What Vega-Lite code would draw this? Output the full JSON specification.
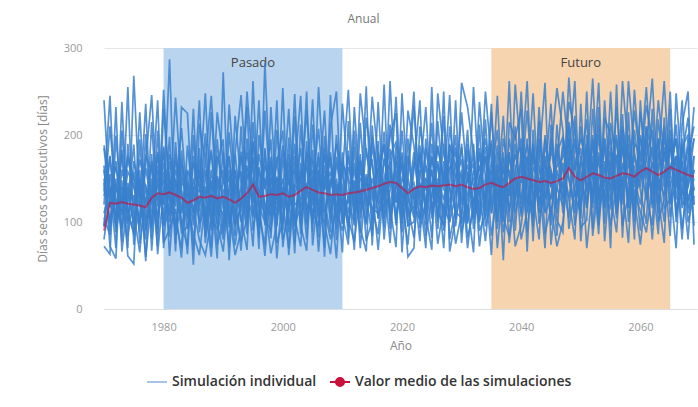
{
  "$schema": "https://vega.github.io/schema/vega-lite/v6.json",
  "width": 593,
  "height": 261,
  "padding": {"left": 36, "top": 13, "right": 0, "bottom": 5},
  "background": "white",
  "title": {"text": "Anual", "fontSize": 12, "font": "Open Sans", "fontWeight": "normal", "color": "#777777", "anchor": "middle", "dx": -37, "offset": 16},
  "config": {
    "view": {"stroke": null},
    "font": "Open Sans",
    "axis": {"labelFont": "Open Sans", "titleFont": "Open Sans", "labelColor": "#9a9a9a", "titleColor": "#8a8a8a", "labelFontSize": 11, "titleFontSize": 12, "titleFontWeight": "normal"},
    "legend": {"labelFont": "Open Sans"}
  },
  "datasets": {
    "bandas": [
      {"periodo": "Pasado", "ini": 1980, "fin": 2010, "centro": 1995},
      {"periodo": "Futuro", "ini": 2035, "fin": 2065, "centro": 2050}
    ],
    "serie": [
      {"a":1970,"m":90,"s0":150,"s1":95,"s2":72,"s3":188,"s4":120,"s5":240,"s6":105,"s7":135,"s8":80,"s9":165,"t0":110,"t1":160,"t2":130,"t3":185,"t4":95,"t5":145},
      {"a":1971,"m":122,"s0":98,"s1":176,"s2":63,"s3":142,"s4":210,"s5":118,"s6":85,"s7":245,"s8":131,"s9":72,"t0":140,"t1":100,"t2":175,"t3":118,"t4":155,"t5":90},
      {"a":1972,"m":121,"s0":150,"s1":88,"s2":199,"s3":70,"s4":125,"s5":108,"s6":232,"s7":93,"s8":164,"s9":58,"t0":95,"t1":145,"t2":120,"t3":170,"t4":105,"t5":138},
      {"a":1973,"m":123,"s0":77,"s1":135,"s2":112,"s3":238,"s4":92,"s5":183,"s6":66,"s7":148,"s8":120,"s9":205,"t0":160,"t1":108,"t2":140,"t3":92,"t4":178,"t5":125},
      {"a":1974,"m":121,"s0":190,"s1":70,"s2":140,"s3":101,"s4":255,"s5":84,"s6":126,"s7":61,"s8":172,"s9":112,"t0":130,"t1":158,"t2":98,"t3":145,"t4":112,"t5":176},
      {"a":1975,"m":120,"s0":110,"s1":268,"s2":95,"s3":158,"s4":74,"s5":131,"s6":189,"s7":52,"s8":140,"s9":86,"t0":100,"t1":142,"t2":170,"t3":118,"t4":88,"t5":150},
      {"a":1976,"m":119,"s0":65,"s1":121,"s2":226,"s3":88,"s4":147,"s5":100,"s6":75,"s7":195,"s8":118,"s9":160,"t0":150,"t1":96,"t2":135,"t3":172,"t4":110,"t5":128},
      {"a":1977,"m":117,"s0":143,"s1":80,"s2":104,"s3":201,"s4":60,"s5":170,"s6":129,"s7":91,"s8":236,"s9":55,"t0":118,"t1":162,"t2":90,"t3":140,"t4":175,"t5":102},
      {"a":1978,"m":128,"s0":92,"s1":215,"s2":150,"s3":67,"s4":128,"s5":246,"s6":105,"s7":137,"s8":81,"s9":178,"t0":170,"t1":120,"t2":142,"t3":98,"t4":160,"t5":112},
      {"a":1979,"m":133,"s0":181,"s1":99,"s2":72,"s3":160,"s4":240,"s5":118,"s6":144,"s7":86,"s8":205,"s9":63,"t0":125,"t1":178,"t2":105,"t3":150,"t4":92,"t5":165},
      {"a":1980,"m":132,"s0":120,"s1":158,"s2":230,"s3":95,"s4":70,"s5":187,"s6":108,"s7":252,"s8":76,"s9":139,"t0":148,"t1":102,"t2":168,"t3":120,"t4":185,"t5":96},
      {"a":1981,"m":134,"s0":287,"s1":83,"s2":136,"s3":112,"s4":170,"s5":61,"s6":198,"s7":125,"s8":92,"s9":155,"t0":108,"t1":150,"t2":125,"t3":178,"t4":100,"t5":140},
      {"a":1982,"m":131,"s0":75,"s1":192,"s2":101,"s3":243,"s4":128,"s5":150,"s6":66,"s7":178,"s8":115,"s9":90,"t0":160,"t1":118,"t2":90,"t3":145,"t4":170,"t5":126},
      {"a":1983,"m":128,"s0":166,"s1":110,"s2":70,"s3":135,"s4":208,"s5":88,"s6":232,"s7":97,"s8":59,"s9":147,"t0":135,"t1":172,"t2":115,"t3":98,"t4":150,"t5":182},
      {"a":1984,"m":122,"s0":102,"s1":145,"s2":188,"s3":63,"s4":119,"s5":94,"s6":225,"s7":72,"s8":158,"s9":131,"t0":92,"t1":130,"t2":160,"t3":115,"t4":142,"t5":105},
      {"a":1985,"m":125,"s0":230,"s1":68,"s2":124,"s3":176,"s4":86,"s5":140,"s6":103,"s7":200,"s8":51,"s9":117,"t0":150,"t1":112,"t2":138,"t3":168,"t4":96,"t5":132},
      {"a":1986,"m":129,"s0":88,"s1":171,"s2":240,"s3":112,"s4":62,"s5":135,"s6":160,"s7":98,"s8":213,"s9":79,"t0":118,"t1":158,"t2":100,"t3":140,"t4":185,"t5":124},
      {"a":1987,"m":128,"s0":141,"s1":95,"s2":76,"s3":202,"s4":125,"s5":248,"s6":83,"s7":118,"s8":170,"s9":62,"t0":172,"t1":130,"t2":150,"t3":108,"t4":92,"t5":160},
      {"a":1988,"m":130,"s0":70,"s1":226,"s2":132,"s3":90,"s4":183,"s5":108,"s6":148,"s7":60,"s8":245,"s9":103,"t0":105,"t1":145,"t2":180,"t3":125,"t4":160,"t5":98},
      {"a":1989,"m":127,"s0":195,"s1":112,"s2":58,"s3":153,"s4":99,"s5":226,"s6":74,"s7":167,"s8":128,"s9":92,"t0":140,"t1":96,"t2":122,"t3":176,"t4":110,"t5":150},
      {"a":1990,"m":129,"s0":115,"s1":80,"s2":272,"s3":129,"s4":66,"s5":171,"s6":100,"s7":195,"s8":87,"s9":150,"t0":160,"t1":135,"t2":108,"t3":148,"t4":180,"t5":94},
      {"a":1991,"m":126,"s0":160,"s1":203,"s2":94,"s3":71,"s4":138,"s5":110,"s6":235,"s7":56,"s8":122,"s9":176,"t0":98,"t1":150,"t2":175,"t3":120,"t4":104,"t5":140},
      {"a":1992,"m":122,"s0":84,"s1":130,"s2":158,"s3":222,"s4":96,"s5":62,"s6":143,"s7":180,"s8":73,"s9":115,"t0":132,"t1":108,"t2":95,"t3":160,"t4":140,"t5":178},
      {"a":1993,"m":127,"s0":210,"s1":67,"s2":117,"s3":145,"s4":181,"s5":89,"s6":104,"s7":246,"s8":128,"s9":78,"t0":176,"t1":140,"t2":120,"t3":100,"t4":158,"t5":112},
      {"a":1994,"m":133,"s0":101,"s1":162,"s2":233,"s3":86,"s4":122,"s5":196,"s6":68,"s7":140,"s8":250,"s9":104,"t0":112,"t1":180,"t2":150,"t3":130,"t4":96,"t5":165},
      {"a":1995,"m":143,"s0":175,"s1":122,"s2":90,"s3":262,"s4":146,"s5":108,"s6":215,"s7":72,"s8":158,"s9":193,"t0":150,"t1":128,"t2":170,"t3":105,"t4":190,"t5":140},
      {"a":1996,"m":129,"s0":69,"s1":240,"s2":134,"s3":110,"s4":82,"s5":163,"s6":121,"s7":200,"s8":95,"s9":148,"t0":138,"t1":100,"t2":160,"t3":178,"t4":118,"t5":92},
      {"a":1997,"m":130,"s0":283,"s1":96,"s2":150,"s3":73,"s4":185,"s5":119,"s6":61,"s7":138,"s8":228,"s9":104,"t0":104,"t1":165,"t2":120,"t3":140,"t4":100,"t5":182},
      {"a":1998,"m":132,"s0":118,"s1":175,"s2":81,"s3":232,"s4":106,"s5":64,"s6":152,"s7":195,"s8":128,"s9":90,"t0":170,"t1":140,"t2":108,"t3":158,"t4":124,"t5":96},
      {"a":1999,"m":131,"s0":152,"s1":58,"s2":206,"s3":125,"s4":240,"s5":97,"s6":113,"s7":76,"s8":168,"s9":143,"t0":120,"t1":96,"t2":175,"t3":104,"t4":150,"t5":138},
      {"a":2000,"m":133,"s0":90,"s1":138,"s2":118,"s3":180,"s4":71,"s5":254,"s6":133,"s7":100,"s8":205,"s9":80,"t0":150,"t1":172,"t2":100,"t3":140,"t4":118,"t5":188},
      {"a":2001,"m":129,"s0":197,"s1":111,"s2":70,"s3":146,"s4":127,"s5":88,"s6":230,"s7":160,"s8":62,"s9":109,"t0":96,"t1":130,"t2":168,"t3":112,"t4":178,"t5":145},
      {"a":2002,"m":131,"s0":76,"s1":222,"s2":159,"s3":95,"s4":190,"s5":132,"s6":104,"s7":64,"s8":142,"s9":247,"t0":140,"t1":104,"t2":120,"t3":176,"t4":98,"t5":160},
      {"a":2003,"m":136,"s0":168,"s1":86,"s2":245,"s3":120,"s4":101,"s5":155,"s6":72,"s7":212,"s8":137,"s9":96,"t0":185,"t1":150,"t2":126,"t3":98,"t4":160,"t5":118},
      {"a":2004,"m":140,"s0":126,"s1":193,"s2":99,"s3":250,"s4":141,"s5":80,"s6":178,"s7":114,"s8":228,"s9":67,"t0":110,"t1":162,"t2":145,"t3":180,"t4":96,"t5":136},
      {"a":2005,"m":137,"s0":241,"s1":104,"s2":145,"s3":73,"s4":160,"s5":212,"s6":89,"s7":131,"s8":119,"s9":183,"t0":152,"t1":126,"t2":98,"t3":170,"t4":140,"t5":110},
      {"a":2006,"m":134,"s0":95,"s1":160,"s2":207,"s3":139,"s4":66,"s5":118,"s6":255,"s7":82,"s8":175,"s9":108,"t0":120,"t1":180,"t2":150,"t3":105,"t4":160,"t5":96},
      {"a":2007,"m":133,"s0":185,"s1":71,"s2":122,"s3":228,"s4":150,"s5":98,"s6":137,"s7":199,"s8":60,"s9":114,"t0":165,"t1":100,"t2":138,"t3":178,"t4":112,"t5":148},
      {"a":2008,"m":131,"s0":110,"s1":246,"s2":88,"s3":104,"s4":175,"s5":63,"s6":158,"s7":128,"s8":210,"s9":80,"t0":98,"t1":150,"t2":180,"t3":124,"t4":140,"t5":168},
      {"a":2009,"m":132,"s0":144,"s1":92,"s2":200,"s3":168,"s4":79,"s5":136,"s6":112,"s7":58,"s8":250,"s9":120,"t0":175,"t1":118,"t2":104,"t3":150,"t4":190,"t5":136},
      {"a":2010,"m":131,"s0":65,"s1":180,"s2":108,"s3":133,"s4":236,"s5":154,"s6":90,"s7":170,"s8":98,"s9":126,"t0":140,"t1":168,"t2":120,"t3":98,"t4":156,"t5":110},
      {"a":2011,"m":133,"s0":216,"s1":121,"s2":74,"s3":95,"s4":146,"s5":252,"s6":130,"s7":82,"s8":163,"s9":104,"t0":110,"t1":150,"t2":176,"t3":130,"t4":96,"t5":182},
      {"a":2012,"m":134,"s0":102,"s1":148,"s2":232,"s3":187,"s4":68,"s5":113,"s6":96,"s7":205,"s8":140,"s9":77,"t0":168,"t1":126,"t2":100,"t3":160,"t4":145,"t5":118},
      {"a":2013,"m":135,"s0":160,"s1":87,"s2":129,"s3":70,"s4":214,"s5":171,"s6":248,"s7":110,"s8":93,"s9":136,"t0":120,"t1":178,"t2":150,"t3":104,"t4":135,"t5":170},
      {"a":2014,"m":137,"s0":130,"s1":220,"s2":97,"s3":152,"s4":118,"s5":78,"s6":181,"s7":256,"s8":66,"s9":145,"t0":155,"t1":108,"t2":140,"t3":185,"t4":100,"t5":128},
      {"a":2015,"m":139,"s0":84,"s1":166,"s2":198,"s3":115,"s4":244,"s5":102,"s6":140,"s7":73,"s8":211,"s9":126,"t0":102,"t1":150,"t2":172,"t3":130,"t4":188,"t5":116},
      {"a":2016,"m":141,"s0":238,"s1":104,"s2":150,"s3":86,"s4":172,"s5":130,"s6":68,"s7":193,"s8":120,"s9":160,"t0":180,"t1":125,"t2":104,"t3":162,"t4":140,"t5":110},
      {"a":2017,"m":144,"s0":110,"s1":258,"s2":125,"s3":172,"s4":94,"s5":204,"s6":147,"s7":80,"s8":136,"s9":188,"t0":130,"t1":172,"t2":150,"t3":104,"t4":190,"t5":120},
      {"a":2018,"m":146,"s0":170,"s1":92,"s2":212,"s3":140,"s4":262,"s5":116,"s6":76,"s7":158,"s8":198,"s9":101,"t0":118,"t1":160,"t2":184,"t3":136,"t4":108,"t5":176},
      {"a":2019,"m":145,"s0":96,"s1":188,"s2":150,"s3":244,"s4":123,"s5":71,"s6":176,"s7":108,"s8":225,"s9":140,"t0":170,"t1":122,"t2":100,"t3":160,"t4":145,"t5":192},
      {"a":2020,"m":139,"s0":205,"s1":125,"s2":88,"s3":110,"s4":168,"s5":248,"s6":98,"s7":142,"s8":65,"s9":180,"t0":128,"t1":176,"t2":150,"t3":104,"t4":118,"t5":160},
      {"a":2021,"m":133,"s0":118,"s1":74,"s2":196,"s3":150,"s4":95,"s5":130,"s6":228,"s7":60,"s8":160,"s9":108,"t0":150,"t1":104,"t2":136,"t3":176,"t4":122,"t5":96},
      {"a":2022,"m":138,"s0":82,"s1":162,"s2":122,"s3":233,"s4":140,"s5":105,"s6":188,"s7":70,"s8":250,"s9":118,"t0":110,"t1":170,"t2":145,"t3":126,"t4":180,"t5":100},
      {"a":2023,"m":141,"s0":155,"s1":240,"s2":102,"s3":128,"s4":78,"s5":180,"s6":120,"s7":210,"s8":93,"s9":146,"t0":176,"t1":128,"t2":104,"t3":160,"t4":140,"t5":188},
      {"a":2024,"m":140,"s0":232,"s1":96,"s2":150,"s3":70,"s4":196,"s5":136,"s6":108,"s7":165,"s8":123,"s9":84,"t0":120,"t1":165,"t2":185,"t3":112,"t4":150,"t5":104},
      {"a":2025,"m":142,"s0":108,"s1":175,"s2":82,"s3":255,"s4":116,"s5":160,"s6":68,"s7":140,"s8":214,"s9":130,"t0":160,"t1":104,"t2":140,"t3":176,"t4":126,"t5":190},
      {"a":2026,"m":141,"s0":170,"s1":128,"s2":216,"s3":92,"s4":145,"s5":75,"s6":248,"s7":112,"s8":100,"s9":188,"t0":104,"t1":150,"t2":168,"t3":122,"t4":186,"t5":130},
      {"a":2027,"m":142,"s0":90,"s1":222,"s2":136,"s3":160,"s4":70,"s5":118,"s6":180,"s7":96,"s8":250,"s9":142,"t0":170,"t1":125,"t2":104,"t3":190,"t4":150,"t5":116},
      {"a":2028,"m":143,"s0":145,"s1":80,"s2":246,"s3":112,"s4":190,"s5":100,"s6":138,"s7":210,"s8":66,"s9":162,"t0":122,"t1":178,"t2":160,"t3":100,"t4":140,"t5":188},
      {"a":2029,"m":141,"s0":200,"s1":116,"s2":95,"s3":168,"s4":132,"s5":240,"s6":75,"s7":150,"s8":104,"s9":180,"t0":150,"t1":104,"t2":186,"t3":132,"t4":112,"t5":166},
      {"a":2030,"m":143,"s0":76,"s1":190,"s2":155,"s3":125,"s4":226,"s5":88,"s6":110,"s7":172,"s8":260,"s9":98,"t0":186,"t1":140,"t2":120,"t3":160,"t4":104,"t5":150},
      {"a":2031,"m":140,"s0":158,"s1":98,"s2":70,"s3":206,"s4":145,"s5":120,"s6":190,"s7":82,"s8":232,"s9":128,"t0":112,"t1":166,"t2":148,"t3":100,"t4":182,"t5":130},
      {"a":2032,"m":138,"s0":105,"s1":255,"s2":128,"s3":92,"s4":168,"s5":65,"s6":140,"s7":114,"s8":180,"s9":150,"t0":160,"t1":120,"t2":176,"t3":140,"t4":104,"t5":190},
      {"a":2033,"m":139,"s0":185,"s1":134,"s2":100,"s3":150,"s4":72,"s5":212,"s6":118,"s7":238,"s8":90,"s9":160,"t0":128,"t1":180,"t2":110,"t3":165,"t4":150,"t5":102},
      {"a":2034,"m":143,"s0":120,"s1":78,"s2":218,"s3":176,"s4":132,"s5":95,"s6":250,"s7":150,"s8":108,"s9":196,"t0":176,"t1":112,"t2":150,"t3":104,"t4":186,"t5":136},
      {"a":2035,"m":145,"s0":236,"s1":150,"s2":110,"s3":84,"s4":194,"s5":128,"s6":170,"s7":62,"s8":226,"s9":140,"t0":120,"t1":170,"t2":190,"t3":140,"t4":110,"t5":160},
      {"a":2036,"m":142,"s0":92,"s1":206,"s2":160,"s3":132,"s4":70,"s5":245,"s6":100,"s7":180,"s8":124,"s9":150,"t0":166,"t1":128,"t2":104,"t3":188,"t4":150,"t5":118},
      {"a":2037,"m":140,"s0":164,"s1":118,"s2":88,"s3":222,"s4":145,"s5":104,"s6":196,"s7":56,"s8":174,"s9":132,"t0":110,"t1":160,"t2":180,"t3":125,"t4":100,"t5":150},
      {"a":2038,"m":145,"s0":130,"s1":262,"s2":140,"s3":100,"s4":180,"s5":84,"s6":155,"s7":215,"s8":76,"s9":170,"t0":180,"t1":130,"t2":112,"t3":160,"t4":196,"t5":140},
      {"a":2039,"m":150,"s0":210,"s1":90,"s2":178,"s3":258,"s4":118,"s5":150,"s6":72,"s7":196,"s8":136,"s9":164,"t0":126,"t1":190,"t2":160,"t3":110,"t4":146,"t5":176},
      {"a":2040,"m":152,"s0":106,"s1":185,"s2":145,"s3":172,"s4":250,"s5":126,"s6":96,"s7":230,"s8":160,"s9":80,"t0":170,"t1":120,"t2":196,"t3":148,"t4":110,"t5":186},
      {"a":2041,"m":150,"s0":174,"s1":140,"s2":228,"s3":88,"s4":120,"s5":196,"s6":152,"s7":66,"s8":262,"s9":112,"t0":112,"t1":176,"t2":140,"t3":190,"t4":160,"t5":126},
      {"a":2042,"m":148,"s0":95,"s1":248,"s2":130,"s3":162,"s4":190,"s5":78,"s6":140,"s7":206,"s8":108,"s9":176,"t0":186,"t1":130,"t2":116,"t3":150,"t4":176,"t5":104},
      {"a":2043,"m":146,"s0":232,"s1":112,"s2":80,"s3":150,"s4":122,"s5":216,"s6":170,"s7":98,"s8":188,"s9":134,"t0":120,"t1":166,"t2":196,"t3":136,"t4":110,"t5":158},
      {"a":2044,"m":147,"s0":126,"s1":172,"s2":200,"s3":70,"s4":154,"s5":110,"s6":260,"s7":142,"s8":86,"s9":196,"t0":176,"t1":112,"t2":150,"t3":186,"t4":128,"t5":166},
      {"a":2045,"m":145,"s0":160,"s1":96,"s2":140,"s3":212,"s4":236,"s5":128,"s6":74,"s7":180,"s8":118,"s9":150,"t0":108,"t1":186,"t2":126,"t3":160,"t4":196,"t5":140},
      {"a":2046,"m":147,"s0":84,"s1":212,"s2":166,"s3":120,"s4":102,"s5":182,"s6":140,"s7":254,"s8":72,"s9":164,"t0":160,"t1":136,"t2":190,"t3":110,"t4":150,"t5":180},
      {"a":2047,"m":150,"s0":196,"s1":128,"s2":250,"s3":146,"s4":88,"s5":160,"s6":118,"s7":205,"s8":100,"s9":174,"t0":126,"t1":186,"t2":110,"t3":168,"t4":140,"t5":198},
      {"a":2048,"m":162,"s0":150,"s1":266,"s2":180,"s3":104,"s4":215,"s5":126,"s6":238,"s7":92,"s8":172,"s9":196,"t0":196,"t1":150,"t2":176,"t3":128,"t4":210,"t5":160},
      {"a":2049,"m":152,"s0":118,"s1":170,"s2":96,"s3":222,"s4":160,"s5":80,"s6":206,"s7":140,"s8":262,"s9":130,"t0":150,"t1":110,"t2":188,"t3":166,"t4":130,"t5":196},
      {"a":2050,"m":148,"s0":210,"s1":104,"s2":140,"s3":78,"s4":185,"s5":236,"s6":120,"s7":166,"s8":94,"s9":150,"t0":120,"t1":176,"t2":156,"t3":196,"t4":110,"t5":140},
      {"a":2051,"m":152,"s0":134,"s1":250,"s2":190,"s3":155,"s4":70,"s5":116,"s6":170,"s7":218,"s8":102,"s9":178,"t0":186,"t1":140,"t2":116,"t3":170,"t4":200,"t5":126},
      {"a":2052,"m":156,"s0":176,"s1":92,"s2":122,"s3":265,"s4":140,"s5":200,"s6":150,"s7":84,"s8":230,"s9":164,"t0":130,"t1":196,"t2":170,"t3":116,"t4":150,"t5":186},
      {"a":2053,"m":154,"s0":100,"s1":180,"s2":232,"s3":130,"s4":212,"s5":96,"s6":260,"s7":146,"s8":120,"s9":86,"t0":176,"t1":126,"t2":150,"t3":200,"t4":110,"t5":166},
      {"a":2054,"m":151,"s0":240,"s1":140,"s2":78,"s3":170,"s4":116,"s5":162,"s6":98,"s7":196,"s8":136,"s9":220,"t0":116,"t1":186,"t2":160,"t3":130,"t4":196,"t5":146},
      {"a":2055,"m":150,"s0":130,"s1":214,"s2":160,"s3":95,"s4":250,"s5":120,"s6":180,"s7":70,"s8":150,"s9":200,"t0":170,"t1":136,"t2":196,"t3":116,"t4":156,"t5":186},
      {"a":2056,"m":153,"s0":88,"s1":166,"s2":200,"s3":146,"s4":126,"s5":232,"s6":104,"s7":258,"s8":176,"s9":110,"t0":136,"t1":196,"t2":120,"t3":176,"t4":146,"t5":110},
      {"a":2057,"m":156,"s0":196,"s1":120,"s2":96,"s3":224,"s4":160,"s5":140,"s6":210,"s7":82,"s8":186,"s9":262,"t0":186,"t1":126,"t2":166,"t3":140,"t4":206,"t5":150},
      {"a":2058,"m":155,"s0":150,"s1":262,"s2":132,"s3":100,"s4":190,"s5":76,"s6":170,"s7":226,"s8":116,"s9":180,"t0":126,"t1":180,"t2":150,"t3":200,"t4":116,"t5":166},
      {"a":2059,"m":152,"s0":110,"s1":180,"s2":228,"s3":165,"s4":80,"s5":206,"s6":135,"s7":100,"s8":252,"s9":126,"t0":176,"t1":140,"t2":116,"t3":150,"t4":190,"t5":126},
      {"a":2060,"m":158,"s0":226,"s1":136,"s2":170,"s3":90,"s4":240,"s5":150,"s6":112,"s7":196,"s8":160,"s9":74,"t0":140,"t1":200,"t2":166,"t3":120,"t4":180,"t5":150},
      {"a":2061,"m":162,"s0":176,"s1":98,"s2":255,"s3":210,"s4":130,"s5":186,"s6":88,"s7":160,"s8":234,"s9":140,"t0":196,"t1":150,"t2":126,"t3":176,"t4":160,"t5":210},
      {"a":2062,"m":158,"s0":120,"s1":230,"s2":150,"s3":176,"s4":96,"s5":265,"s6":140,"s7":80,"s8":196,"s9":168,"t0":130,"t1":186,"t2":166,"t3":206,"t4":140,"t5":116},
      {"a":2063,"m":154,"s0":196,"s1":110,"s2":86,"s3":150,"s4":218,"s5":128,"s6":240,"s7":172,"s8":100,"s9":154,"t0":180,"t1":120,"t2":150,"t3":136,"t4":196,"t5":166},
      {"a":2064,"m":158,"s0":140,"s1":186,"s2":220,"s3":100,"s4":160,"s5":76,"s6":176,"s7":262,"s8":126,"s9":210,"t0":150,"t1":200,"t2":130,"t3":180,"t4":116,"t5":170},
      {"a":2065,"m":163,"s0":250,"s1":150,"s2":120,"s3":196,"s4":84,"s5":230,"s6":160,"s7":140,"s8":186,"s9":106,"t0":186,"t1":140,"t2":206,"t3":160,"t4":126,"t5":196},
      {"a":2066,"m":160,"s0":106,"s1":212,"s2":176,"s3":140,"s4":248,"s5":100,"s6":196,"s7":70,"s8":166,"s9":154,"t0":126,"t1":176,"t2":150,"t3":196,"t4":140,"t5":110},
      {"a":2067,"m":157,"s0":186,"s1":130,"s2":92,"s3":240,"s4":150,"s5":176,"s6":116,"s7":212,"s8":80,"s9":168,"t0":196,"t1":146,"t2":170,"t3":120,"t4":186,"t5":136},
      {"a":2068,"m":154,"s0":124,"s1":196,"s2":150,"s3":110,"s4":80,"s5":220,"s6":140,"s7":250,"s8":176,"s9":100,"t0":140,"t1":186,"t2":116,"t3":166,"t4":200,"t5":126},
      {"a":2069,"m":152,"s0":160,"s1":96,"s2":232,"s3":140,"s4":176,"s5":120,"s6":196,"s7":74,"s8":210,"s9":130,"t0":176,"t1":120,"t2":160,"t3":196,"t4":136,"t5":150}
    ]
  },
  "encoding": {
    "x": {"type": "quantitative", "scale": {"domain": [1970, 2069.5], "nice": false, "zero": false},
          "axis": {"title": "Año", "values": [1980, 2000, 2020, 2040, 2060], "format": "d", "grid": false, "ticks": false, "domainColor": "#dddddd", "labelPadding": 12, "titlePadding": 8}}
  },
  "layer": [
    {
      "data": {"name": "bandas"},
      "mark": {"type": "rect"},
      "encoding": {
        "x": {"field": "ini", "type": "quantitative"},
        "x2": {"field": "fin"},
        "y": {"datum": 0, "type": "quantitative", "scale": {"domain": [0, 300], "nice": false},
              "axis": {"title": "Días secos consecutivos [días]", "values": [0, 100, 200, 300], "grid": true, "gridColor": "#e6e6e6", "domain": false, "ticks": false, "labelPadding": 22, "titlePadding": 14}},
        "y2": {"datum": 300},
        "fill": {"condition": {"test": "datum.periodo === 'Pasado'", "value": "#b9d4ee"}, "value": "#f6d4b0"}
      }
    },
    {
      "data": {"name": "bandas"},
      "mark": {"type": "text", "fontSize": 13, "color": "#444444", "baseline": "middle", "align": "center"},
      "encoding": {
        "x": {"field": "centro", "type": "quantitative"},
        "y": {"datum": 283, "type": "quantitative"},
        "text": {"field": "periodo"}
      }
    },
    {
      "data": {"name": "serie"},
      "transform": [{"fold": ["s0", "s1", "s2", "s3", "s4", "s5", "s6", "s7", "s8", "s9", "t0", "t1", "t2", "t3", "t4", "t5"], "as": ["sim", "v"]}],
      "mark": {"type": "line", "strokeWidth": 1.7, "opacity": 0.85},
      "encoding": {
        "x": {"field": "a", "type": "quantitative"},
        "y": {"field": "v", "type": "quantitative"},
        "detail": {"field": "sim"},
        "stroke": {"datum": "Simulación individual", "type": "nominal",
                  "scale": {"domain": ["Simulación individual"], "range": ["#3a80cc"]},
                  "legend": {"title": null, "orient": "none", "legendX": 42, "legendY": 323, "labelFontSize": 14, "labelColor": "#333333", "labelFontWeight": 600, "labelLimit": 400, "symbolType": "stroke", "symbolSize": 400, "symbolStrokeWidth": 1.5, "symbolOpacity": 0.6}}
      }
    },
    {
      "data": {"name": "serie"},
      "mark": {"type": "line", "strokeWidth": 2, "opacity": 0.62},
      "encoding": {
        "x": {"field": "a", "type": "quantitative"},
        "y": {"field": "m", "type": "quantitative"},
        "color": {"datum": "Valor medio de las simulaciones", "type": "nominal",
                  "scale": {"domain": ["Valor medio de las simulaciones"], "range": ["#c8103c"]},
                  "legend": {"title": null, "orient": "none", "legendX": 225, "legendY": 323, "labelFontSize": 14, "labelColor": "#333333", "labelFontWeight": 600, "labelLimit": 400, "symbolType": "M-1,0H1M0.4,0A0.4,0.4,0,1,1,-0.4,0A0.4,0.4,0,1,1,0.4,0", "symbolSize": 400, "symbolFillColor": "#d0103a", "symbolStrokeWidth": 2, "symbolOpacity": 1}}
      }
    }
  ]
}
